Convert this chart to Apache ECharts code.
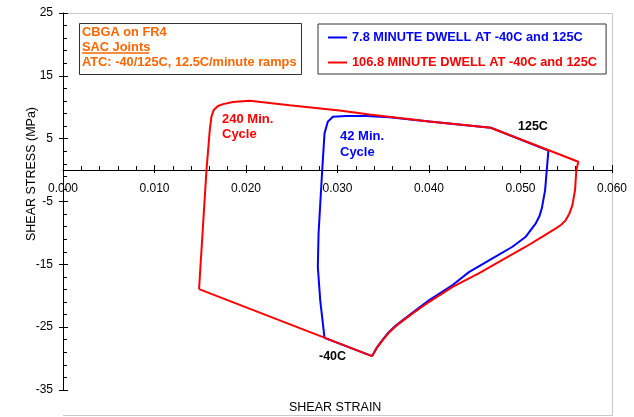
<!DOCTYPE html>
<html>
<head>
<meta charset="utf-8">
<script src="https://cdn.jsdelivr.net/npm/echarts@6/dist/echarts.min.js"></script>
<style>
  html, body { margin: 0; padding: 0; background: #fff; }
  #chart { width: 634px; height: 417px; }
</style>
</head>
<body>
<div id="chart"></div>
<script>
// Hysteresis loops: shear strain vs shear stress (MPa)
const blueName = '7.8 MINUTE DWELL AT -40C and 125C';
const redName = '106.8 MINUTE DWELL AT -40C and 125C';

// 240 min cycle (106.8 min dwell)
const redStrain = [0.01487, 0.01568, 0.01604, 0.01622, 0.01647, 0.01694, 0.01749, 0.01858, 0.02040,
  0.02476, 0.03022, 0.03349, 0.04003, 0.04676, 0.05632,
  0.05610, 0.05596, 0.05567, 0.05535, 0.05495, 0.05445, 0.05386, 0.05240, 0.05058, 0.04803, 0.04549, 0.04258,
  0.04003, 0.03821, 0.03640, 0.03560, 0.03494, 0.03430, 0.03378, 0.01487];
const redStress = [-18.94, 0.0, 6.37, 8.48, 9.55, 10.19, 10.50, 10.82, 11.02,
  10.30, 9.50, 8.85, 7.74, 6.74, 1.32,
  0.0, -3.18, -5.57, -6.90, -7.96, -8.70, -9.28, -10.60, -12.20, -14.30, -16.40, -18.60,
  -20.96, -22.80, -24.80, -25.90, -27.06, -28.30, -29.60, -18.94];

// 42 min cycle (7.8 min dwell)
const blueStrain = [0.02858, 0.02811, 0.02785, 0.02793, 0.02814, 0.02833, 0.02858, 0.02894, 0.02949, 0.03095,
  0.03313, 0.03567, 0.04003, 0.04676, 0.05305,
  0.05287, 0.05269, 0.05233, 0.05205, 0.05167, 0.05058, 0.04912, 0.04694, 0.04440, 0.04258,
  0.04003, 0.03821, 0.03640, 0.03560, 0.03494, 0.03430, 0.03378, 0.02858];
const blueStress = [-26.70, -20.69, -15.39, -10.07, -4.77, 0.0, 5.84, 7.70, 8.50, 8.60,
  8.60, 8.40, 7.74, 6.74, 3.10,
  0.0, -3.18, -6.10, -7.40, -8.48, -10.60, -12.20, -14.05, -16.20, -18.30,
  -20.70, -22.68, -24.70, -25.80, -26.98, -28.25, -29.60, -26.70];

const xMin = 0, xMax = 0.06, xStep = 0.01;
const yMin = -35, yMax = 25, yStep = 10;

const FONT = '"Liberation Sans", Arial, sans-serif';
const ORANGE = '#ff6600';

function pairs(xs, ys) { return xs.map((x, i) => [x, ys[i]]); }

const chart = echarts.init(document.getElementById('chart'), null, { renderer: 'canvas' });

const option = {
  animation: false,
  backgroundColor: '#ffffff',
  grid: { left: 63, right: 22, top: 13, bottom: 27, containLabel: false },
  xAxis: [{
    type: 'value', min: xMin, max: xMax, interval: xStep,
    axisLine: { show: true, onZero: true, onZeroAxisIndex: 0, lineStyle: { color: '#000', width: 1 } },
    axisTick: { show: true, inside: true, length: 5, lineStyle: { color: '#000' } },
    minorTick: { show: true, splitNumber: 5, length: 4, lineStyle: { color: '#000' } },
    // labels sit just under the zero line
    axisLabel: { color: '#000', fontSize: 12, fontFamily: FONT, margin: -207,
      formatter: v => v.toFixed(3) },
    splitLine: { show: false }
  }, {
    type: 'value', min: xMin, max: xMax, interval: xStep, position: 'bottom',
    axisLine: { show: false, onZero: true, onZeroAxisIndex: 0 },
    axisTick: { show: true, inside: false, length: 3, lineStyle: { color: '#000' } },
    axisLabel: { show: false }, splitLine: { show: false }
  }],
  yAxis: [{
    type: 'value', min: yMin, max: yMax, interval: yStep, position: 'left',
    axisLine: { show: true, onZero: false, lineStyle: { color: '#000', width: 1 } },
    axisTick: { show: true, inside: true, length: 5, lineStyle: { color: '#000' } },
    minorTick: { show: true, splitNumber: 5, length: 4, lineStyle: { color: '#000' } },
    axisLabel: { color: '#000', fontSize: 12, fontFamily: FONT, margin: 10 },
    splitLine: { show: false }
  }, {
    type: 'value', min: yMin, max: yMax, interval: yStep, position: 'left', offset: 0,
    axisLine: { show: false, onZero: false },
    axisTick: { show: true, inside: false, length: 4, lineStyle: { color: '#000' } },
    axisLabel: { show: false }, splitLine: { show: false }
  }],
  legend: {
    orient: 'vertical', left: 318, top: 24,
    padding: [7, 9, 5, 10], itemGap: 12,
    borderColor: '#333', borderWidth: 1, backgroundColor: '#fff',
    icon: 'rect', itemWidth: 19, itemHeight: 2,
    textStyle: { fontSize: 12.8, fontWeight: 'bold', fontFamily: FONT },
    data: [
      { name: blueName, textStyle: { color: '#0000ff' } },
      { name: redName, textStyle: { color: '#ff0000' } }
    ]
  },
  series: [{
    name: blueName, type: 'line', xAxisIndex: 0, yAxisIndex: 0,
    data: pairs(blueStrain, blueStress),
    showSymbol: false, symbol: 'none', smooth: false,
    lineStyle: { color: '#0000ff', width: 2 }, itemStyle: { color: '#0000ff' }, z: 2
  }, {
    name: redName, type: 'line', xAxisIndex: 0, yAxisIndex: 0,
    data: pairs(redStrain, redStress),
    showSymbol: false, symbol: 'none', smooth: false,
    lineStyle: { color: '#ff0000', width: 2 }, itemStyle: { color: '#ff0000' }, z: 3
  }],
  graphic: [
    // outer frame lines (top, right, bottom)
    { type: 'polyline', silent: true, z: 0,
      shape: { points: [[63, 13.5], [612.5, 13.5], [612.5, 415.5], [63, 415.5]] },
      style: { stroke: '#c8c8c8', lineWidth: 1, fill: null } },
    // annotation box
    { type: 'rect', shape: { x: 79.5, y: 23.5, width: 222, height: 51 },
      style: { fill: '#fff', stroke: '#333', lineWidth: 1 }, z: 10 },
    { type: 'text', left: 82, top: 26, z: 11,
      style: { text: 'CBGA on FR4', fill: ORANGE, font: 'bold 12.8px ' + FONT } },
    { type: 'text', left: 82, top: 41, z: 11,
      style: { text: 'SAC Joints', fill: ORANGE, font: 'bold 12.8px ' + FONT } },
    { type: 'line', z: 11, shape: { x1: 82, y1: 53, x2: 149, y2: 53 },
      style: { stroke: ORANGE, lineWidth: 1.5 } },
    { type: 'text', left: 82, top: 56, z: 11,
      style: { text: 'ATC: -40/125C, 12.5C/minute ramps', fill: ORANGE, font: 'bold 12.8px ' + FONT } },
    // loop annotations
    { type: 'text', left: 222, top: 112, z: 11,
      style: { text: '240 Min.\nCycle', fill: '#ff0000', font: 'bold 13px ' + FONT, lineHeight: 15 } },
    { type: 'text', left: 340, top: 129, z: 11,
      style: { text: '42 Min.\nCycle', fill: '#0000ff', font: 'bold 13px ' + FONT, lineHeight: 15.5 } },
    { type: 'text', left: 518, top: 120, z: 11,
      style: { text: '125C', fill: '#000', font: 'bold 12.5px ' + FONT } },
    { type: 'text', left: 319, top: 350, z: 11,
      style: { text: '-40C', fill: '#000', font: 'bold 12.5px ' + FONT } },
    // axis titles
    { type: 'text', left: 289, top: 401, z: 11,
      style: { text: 'SHEAR STRAIN', fill: '#000', font: '12.5px ' + FONT } },
    { type: 'text', x: 32, y: 174, rotation: Math.PI / 2, z: 11,
      style: { text: 'SHEAR STRESS (MPa)', fill: '#000', font: '12.5px ' + FONT,
        align: 'center', verticalAlign: 'middle' } }
  ]
};

chart.setOption(option);
</script>
</body>
</html>
